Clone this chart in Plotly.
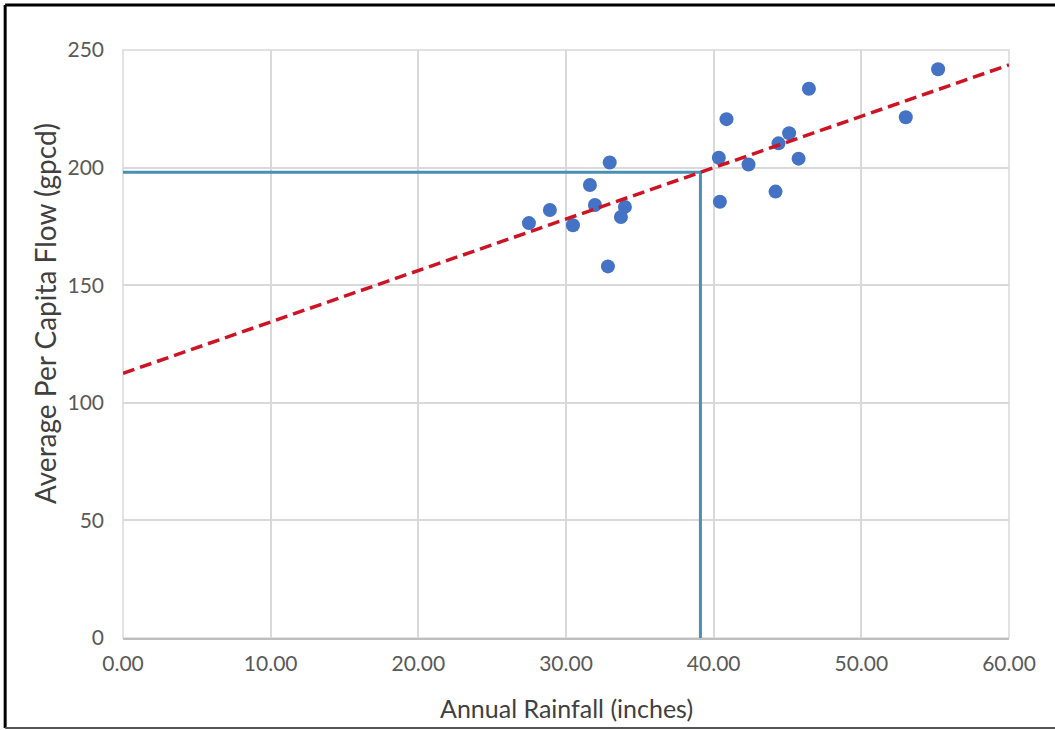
import numpy as np
import plotly.graph_objects as go

rainfall = [27.49, 28.91, 30.47, 31.62, 31.96, 32.96, 32.84, 33.72, 33.99,
            40.87, 40.35, 40.42, 42.36, 44.19, 44.39, 45.11, 45.75, 46.45,
            53.01, 55.2]
flow = [176.4, 182.0, 175.5, 192.6, 184.1, 202.2, 158.0, 179.0, 183.3,
        220.6, 204.2, 185.5, 201.3, 189.8, 210.3, 214.6, 203.8, 233.5,
        221.4, 241.8]
x_ticks = [0, 10, 20, 30, 40, 50, 60]
x_tick_labels = ["0.00", "10.00", "20.00", "30.00", "40.00", "50.00", "60.00"]
y_ticks = [0, 50, 100, 150, 200, 250]
x_title = "Annual Rainfall (inches)"
y_title = "Average Per Capita Flow (gpcd)"

slope, intercept = np.polyfit(rainfall, flow, 1)
mx, my = float(np.mean(rainfall)), float(np.mean(flow))
trend_x = [0, 60]
trend_y = [intercept + slope * v for v in trend_x]

fig = go.Figure()
fig.add_trace(go.Scatter(x=[0, mx, mx], y=[my, my, 0], mode="lines",
                         line=dict(color="#4a8fb5", width=3), hoverinfo="skip"))
fig.add_trace(go.Scatter(x=rainfall, y=flow, mode="markers",
                         marker=dict(color="#4472C4", size=14)))
fig.add_trace(go.Scatter(x=trend_x, y=trend_y, mode="lines",
                         line=dict(color="#CC1425", width=3.5, dash="12px,6px")))

font = "Lato, Open Sans, sans-serif"
fig.update_layout(
    width=1055, height=730,
    margin=dict(l=123, r=46, t=50, b=92),
    paper_bgcolor="white", plot_bgcolor="white",
    showlegend=False,
    font=dict(family=font, color="#595959", size=21),
    xaxis=dict(range=[0, 60], tickvals=x_ticks, ticktext=x_tick_labels,
               showgrid=True, gridcolor="#D9D9D9", gridwidth=1.5,
               showline=True, linecolor="#BFBFBF", linewidth=1.5, mirror=False,
               zeroline=False, ticks="", ticklabelstandoff=6),
    yaxis=dict(range=[0, 250], tickvals=y_ticks,
               showgrid=True, gridcolor="#D9D9D9", gridwidth=1.5,
               zeroline=False, ticks="", ticklabelstandoff=18),
)
fig.add_annotation(text=x_title, xref="paper", yref="paper", x=0.5, y=-0.119,
                   xanchor="center", yanchor="middle", showarrow=False,
                   font=dict(size=25, color="#404040", family=font))
fig.add_annotation(text=y_title, xref="paper", yref="paper", x=-0.088, y=0.551,
                   xanchor="center", yanchor="middle", showarrow=False, textangle=-90,
                   font=dict(size=28, color="#404040", family=font))
# outer frame
fig.add_shape(type="rect", xref="paper", yref="paper", x0=0, x1=1, y0=0, y1=1,
              line=dict(color="#D9D9D9", width=1.5), layer="below")
fig.add_shape(type="line", xref="paper", yref="paper", x0=-0.133, x1=1.06, y0=1.0765, y1=1.0765,
              line=dict(color="black", width=3))
fig.add_shape(type="line", xref="paper", yref="paper", x0=-0.133, x1=-0.133, y0=1.0765, y1=-0.153,
              line=dict(color="black", width=3))
fig.add_shape(type="line", xref="paper", yref="paper", x0=-0.133, x1=1.06, y0=-0.153, y1=-0.153,
              line=dict(color="#555555", width=2))

fig.write_html("out.html", config={"displayModeBar": False},
               post_script="document.body.style.margin='0';")
